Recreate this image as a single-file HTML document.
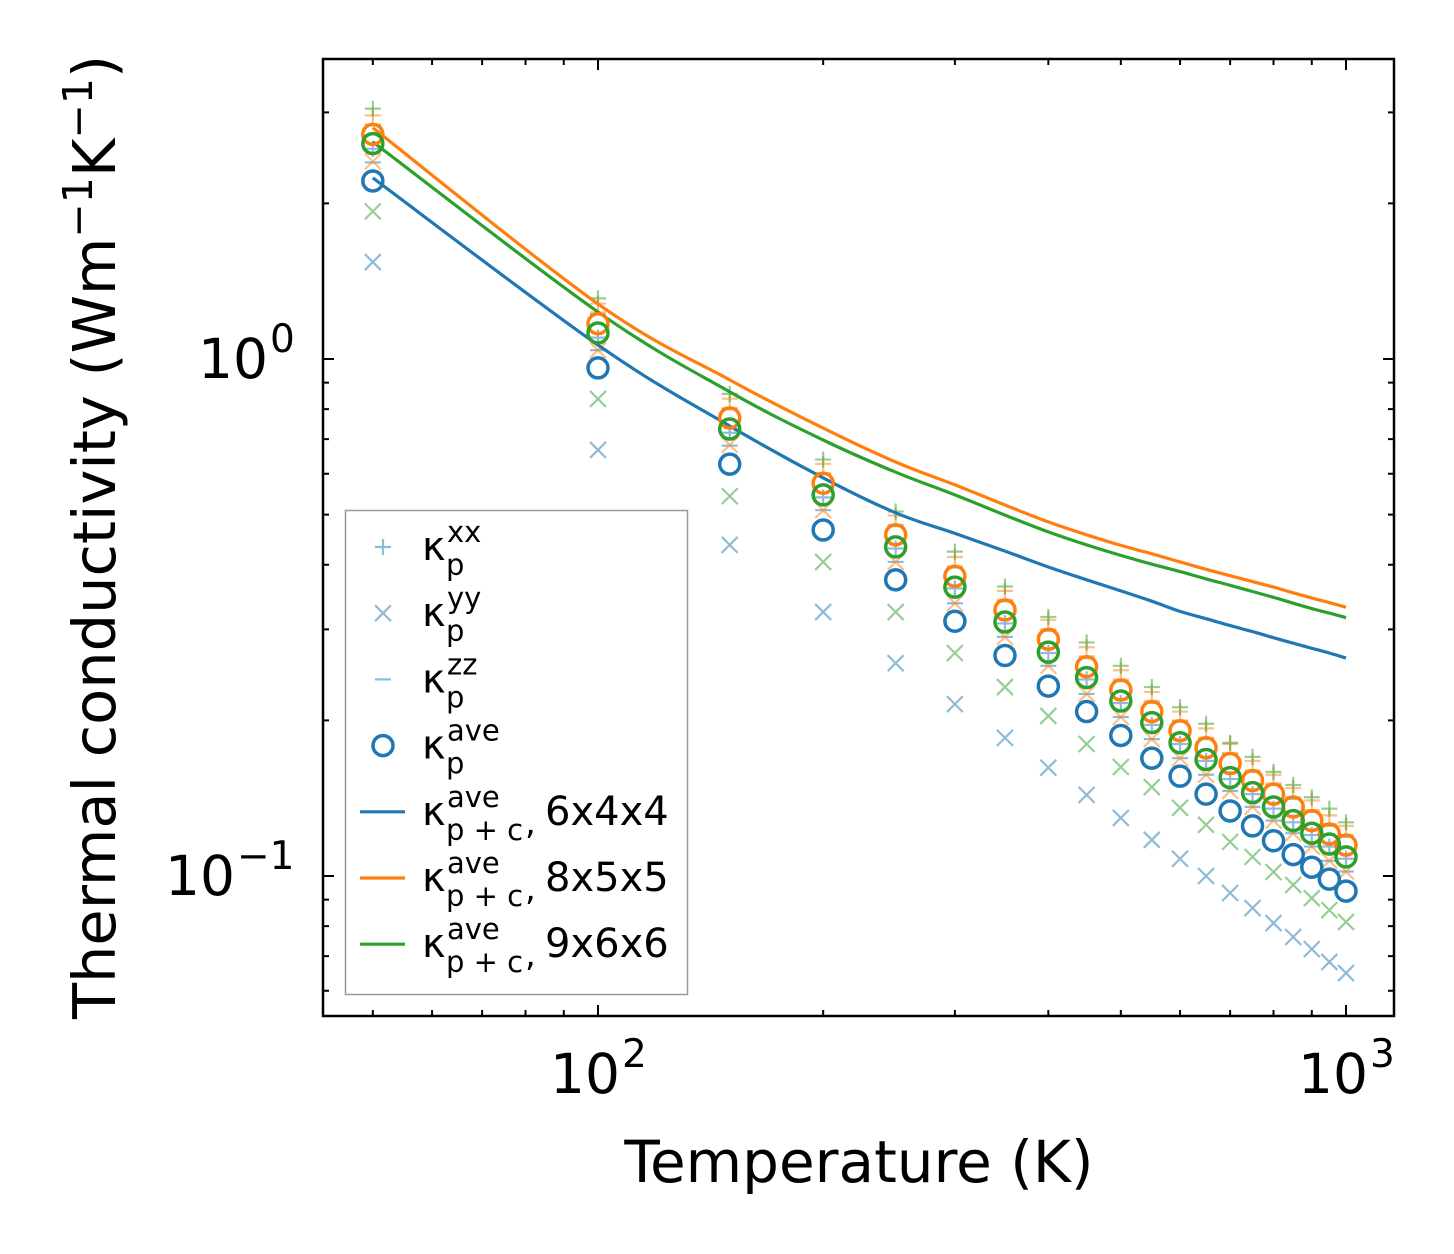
<!DOCTYPE html>
<html><head><meta charset="utf-8"><style>
html,body{margin:0;padding:0;background:#fff}
svg{display:block;font-family:"DejaVu Sans","Liberation Sans",sans-serif}
</style></head><body>
<svg id="chart" width="1454" height="1254" viewBox="0 0 1454 1254" xmlns="http://www.w3.org/2000/svg">
<rect width="1454" height="1254" fill="#fff"/>
<g id="plot"></g>
<g id="axes"></g>
<text x="859" y="1182" font-size="58" text-anchor="middle">Temperature (K)</text>
<text transform="translate(115,537) rotate(-90)" font-size="59" text-anchor="middle">Thermal conductivity (Wm<tspan dy="-23" font-size="41">−1</tspan><tspan dy="23">K</tspan><tspan dy="-23" font-size="41">−1</tspan><tspan dy="23">)</tspan></text>
<g><text x="550" y="1093" font-size="55">10</text><text x="622" y="1067" font-size="39">2</text></g>
<g><text x="1298" y="1093" font-size="55">10</text><text x="1370" y="1067" font-size="39">3</text></g>
<g><text x="198" y="378" font-size="55">10</text><text x="270" y="352" font-size="39">0</text></g>
<g><text x="165" y="895" font-size="55">10</text><text x="237" y="869" font-size="39">−1</text></g>
<g id="legend"></g>
</svg>
<script>
const temps=[50,100,150,200,250,300,350,400,450,500,550,600,650,700,750,800,850,900,950,1000];
const blueAve=[2.21,0.961,0.626,0.467,0.374,0.311,0.267,0.233,0.208,0.187,0.169,0.156,0.144,0.1336,0.125,0.117,0.110,0.104,0.0986,0.0935];
const orangeAve=[2.72,1.17,0.769,0.575,0.457,0.380,0.327,0.287,0.254,0.229,0.208,0.191,0.177,0.165,0.153,0.144,0.136,0.128,0.1206,0.1148];
const greenAve=[2.61,1.123,0.732,0.546,0.433,0.362,0.310,0.271,0.242,0.218,0.198,0.181,0.168,0.155,0.145,0.136,0.128,0.121,0.1153,0.1089];
const blueXX=[2.55,1.10,0.72,0.54,0.43,0.36,0.308,0.27,0.24,0.216,0.196,0.18,0.167,0.154,0.144,0.135,0.127,0.12,0.114,0.108];
const blueYY=[1.54,0.667,0.437,0.324,0.258,0.215,0.185,0.162,0.1435,0.1295,0.1175,0.108,0.100,0.0927,0.0867,0.0811,0.0762,0.0722,0.0682,0.0649];
const blueZZ=[2.40,1.04,0.68,0.51,0.405,0.337,0.29,0.255,0.225,0.203,0.184,0.169,0.157,0.146,0.136,0.128,0.121,0.114,0.107,0.102];
const orangeXX=[2.96,1.28,0.838,0.627,0.498,0.414,0.356,0.313,0.277,0.250,0.227,0.208,0.193,0.180,0.167,0.157,0.148,0.140,0.131,0.125];
const orangeYY=[2.41,1.04,0.682,0.510,0.405,0.337,0.290,0.255,0.225,0.203,0.184,0.169,0.157,0.146,0.136,0.128,0.121,0.114,0.107,0.102];
const orangeZZ=[2.84,1.23,0.805,0.602,0.478,0.397,0.342,0.300,0.266,0.240,0.218,0.200,0.185,0.173,0.160,0.151,0.142,0.134,0.126,0.120];
const greenXX=[3.05,1.31,0.856,0.639,0.507,0.424,0.363,0.317,0.283,0.255,0.232,0.212,0.197,0.181,0.170,0.159,0.150,0.142,0.135,0.127];
const greenYY=[1.93,0.837,0.543,0.405,0.324,0.270,0.232,0.204,0.180,0.1625,0.1486,0.1355,0.1256,0.1164,0.1089,0.1018,0.0961,0.0906,0.0859,0.0815];
const greenZZ=[2.83,1.22,0.80,0.598,0.475,0.395,0.340,0.298,0.264,0.238,0.216,0.199,0.184,0.172,0.159,0.150,0.141,0.133,0.125,0.119];
const blueLine=[2.24,1.064,0.742,0.589,0.504,0.460,0.425,0.396,0.374,0.356,0.340,0.325,0.3146,0.305,0.297,0.289,0.282,0.2757,0.270,0.264];
const orangeLine=[2.80,1.278,0.911,0.735,0.632,0.571,0.522,0.484,0.457,0.436,0.420,0.405,0.392,0.381,0.371,0.362,0.353,0.345,0.338,0.331];
const greenLine=[2.63,1.233,0.864,0.697,0.604,0.546,0.499,0.463,0.437,0.417,0.401,0.388,0.3756,0.365,0.355,0.346,0.337,0.329,0.3225,0.316];

const NS="http://www.w3.org/2000/svg";
const L=323,R=1394,T=59,B=1016;
function xs(t){return 598+748*Math.log10(t/100);}
function ys(v){return 359-517*Math.log10(v);}
const C={b:"#1f77b4",o:"#ff7f0e",g:"#2ca02c"};
function mk(tag,attrs,parent){const e=document.createElementNS(NS,tag);for(const k in attrs)e.setAttribute(k,attrs[k]);parent.appendChild(e);return e;}
const plot=document.getElementById('plot');
const axes=document.getElementById('axes');

function drawMarker(type,cx,cy,color,parent,alpha){
  let e;
  if(type==='+') e=mk('path',{d:`M${cx-8},${cy}H${cx+8}M${cx},${cy-8}V${cy+8}`,stroke:color,'stroke-width':2.2,fill:'none',opacity:alpha},parent);
  else if(type==='x') e=mk('path',{d:`M${cx-8},${cy-8}L${cx+8},${cy+8}M${cx-8},${cy+8}L${cx+8},${cy-8}`,stroke:color,'stroke-width':2.2,fill:'none',opacity:alpha},parent);
  else if(type==='-') e=mk('path',{d:`M${cx-8},${cy}H${cx+8}`,stroke:color,'stroke-width':2.2,fill:'none',opacity:alpha},parent);
  else e=mk('circle',{cx:cx,cy:cy,r:10,stroke:color,'stroke-width':3.5,fill:'none'},parent);
  return e;
}
function smoothPath(pts){
  let d=`M${pts[0][0].toFixed(1)},${pts[0][1].toFixed(1)}`;
  for(let i=0;i<pts.length-1;i++){
    const p0=pts[Math.max(0,i-1)],p1=pts[i],p2=pts[i+1],p3=pts[Math.min(pts.length-1,i+2)];
    const c1x=p1[0]+(p2[0]-p0[0])/6,c1y=p1[1]+(p2[1]-p0[1])/6;
    const c2x=p2[0]-(p3[0]-p1[0])/6,c2y=p2[1]-(p3[1]-p1[1])/6;
    d+=`C${c1x.toFixed(1)},${c1y.toFixed(1)} ${c2x.toFixed(1)},${c2y.toFixed(1)} ${p2[0].toFixed(1)},${p2[1].toFixed(1)}`;
  }
  return d;
}
const scatter=[
 [blueXX,'+',C.b,'blue-xx-point'],[blueYY,'x',C.b,'blue-yy-point'],[blueZZ,'-',C.b,'blue-zz-point'],
 [orangeXX,'+',C.o,'orange-xx-point'],[orangeYY,'x',C.o,'orange-yy-point'],[orangeZZ,'-',C.o,'orange-zz-point'],
 [greenXX,'+',C.g,'green-xx-point'],[greenYY,'x',C.g,'green-yy-point'],[greenZZ,'-',C.g,'green-zz-point']
];
scatter.forEach(s=>{
  s[0].forEach((v,i)=>{
    const e=drawMarker(s[1],xs(temps[i]),ys(v),s[2],plot,0.5);
    
    
  });
});
[[blueLine,C.b,'blue-line-6x4x4'],[orangeLine,C.o,'orange-line-8x5x5'],[greenLine,C.g,'green-line-9x6x6']].forEach(s=>{
  const pts=s[0].map((v,i)=>[xs(temps[i]),ys(v)]);
  const e=mk('path',{d:smoothPath(pts),fill:'none',stroke:s[1],'stroke-width':3.2,'stroke-linejoin':'round'},plot);
  
  
});
[[blueAve,C.b,'blue-ave-point'],[orangeAve,C.o,'orange-ave-point'],[greenAve,C.g,'green-ave-point']].forEach(s=>{
  s[0].forEach((v,i)=>{
    const e=drawMarker('o',xs(temps[i]),ys(v),s[1],plot,1);
    
    
  });
});

const fr=mk('rect',{x:L,y:T,width:R-L,height:B-T,fill:'none',stroke:'#000','stroke-width':2.5},axes);


let xt=[];
for(let d=10;d<=1000;d*=10)for(let k=1;k<10;k++){const t=k*d;const x=xs(t);if(x>L+1&&x<R-1)xt.push([x,k===1]);}
xt.forEach(([x,maj])=>{const len=maj?11:6;
  const e=mk('path',{d:`M${x},${B}V${B-len}M${x},${T}V${T+len}`,stroke:'#000','stroke-width':2},axes);
  
  
});
let yt=[];
for(let d=0.01;d<=10;d*=10)for(let k=1;k<10;k++){const v=k*d;const y=ys(v);if(y>T+1&&y<B-1)yt.push([y,k===1]);}
yt.forEach(([y,maj])=>{const len=maj?11:6;
  const e=mk('path',{d:`M${L},${y}H${L+len}M${R},${y}H${R-len}`,stroke:'#000','stroke-width':2},axes);
  
  
});

const lg=document.getElementById('legend');
const lb=mk('rect',{x:345.5,y:510.5,width:342,height:484,fill:'#fff',stroke:'#999','stroke-width':1.5},lg);


const entries=[['+','xx',''],['x','yy',''],['-','zz',''],['o','ave',''],['line','ave','6x4x4',C.b],['line','ave','8x5x5',C.o],['line','ave','9x6x6',C.g]];
entries.forEach((en,i)=>{
  const cy=547+66.2*i;
  const g=mk('g',{},lg);
  
  
  if(en[0]==='line') mk('path',{d:`M360,${cy}H405`,stroke:en[3],'stroke-width':3.2},g);
  else drawMarker(en[0],383,cy,C.b,g,en[0]==='o'?1:0.5);
  const t=mk('text',{x:422,y:cy+13,'font-size':40},g);
  t.innerHTML=`κ<tspan font-size="29" x="447" dy="-18">${en[1]}</tspan><tspan font-size="29" x="446" dy="33">${en[0]==='line'?'p + c':'p'}</tspan>`;
  if(en[2]){
    const c=mk('text',{x:525,y:cy+22,'font-size':34},g);c.textContent=',';
    const t2=mk('text',{x:545,y:cy+13,'font-size':40},g);t2.textContent=en[2];
  }
});
</script>
</body></html>
